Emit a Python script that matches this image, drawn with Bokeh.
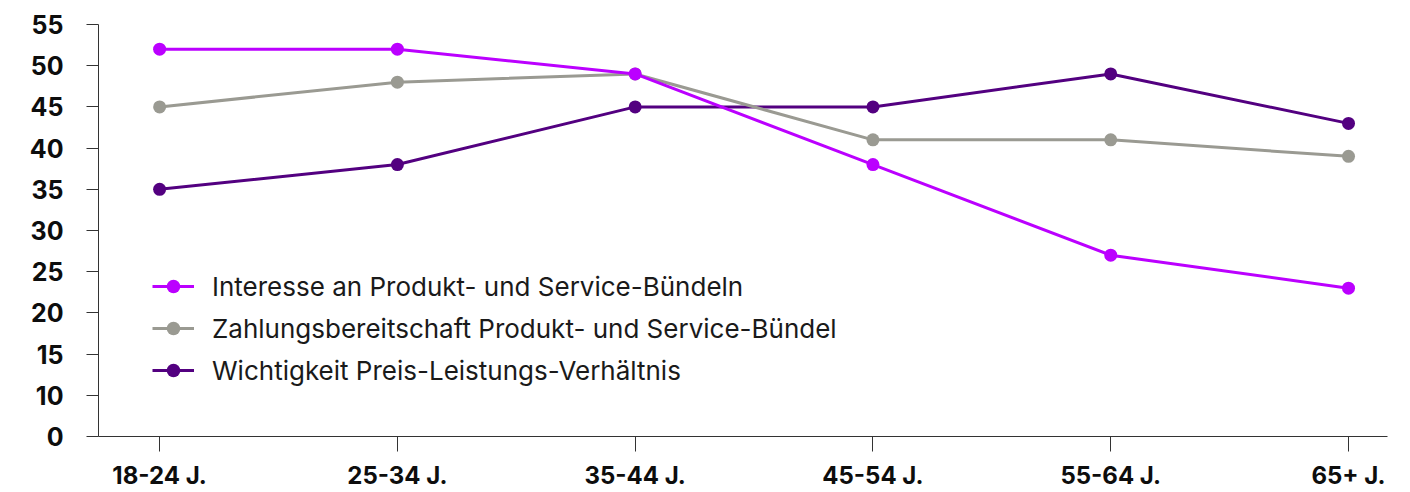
from bokeh.plotting import figure
from bokeh.models import Range1d, FixedTicker, Legend, LegendItem, ColumnDataSource
from bokeh.embed import file_html
from bokeh.resources import INLINE

# Altersgruppen und Umfragewerte (Prozent)
age_groups = ["18-24 J.", "25-34 J.", "35-44 J.", "45-54 J.", "55-64 J.", "65+ J."]
interesse = [52, 52, 49, 38, 27, 23]
zahlungsbereitschaft = [45, 48, 49, 41, 41, 39]
wichtigkeit = [35, 38, 45, 45, 49, 43]

series_names = [
    "Interesse an Produkt- und Service-Bündeln",
    "Zahlungsbereitschaft Produkt- und Service-Bündel",
    "Wichtigkeit Preis-Leistungs-Verhältnis",
]
series_colors = ["#BB00FF", "#9A9A92", "#530080"]

y_ticks = [5, 10, 15, 20, 25, 30, 35, 40, 45, 50, 55]
y_tick_labels = ["0", "10", "15", "20", "25", "30", "35", "40", "45", "50", "55"]

xs = list(range(len(age_groups)))

p = figure(
    width=1410,
    height=492,
    output_backend="svg",
    toolbar_location=None,
    x_range=Range1d(-0.257, 5.164),
    y_range=Range1d(5, 55),
    min_border_left=98,
    min_border_right=23,
    min_border_top=24,
    min_border_bottom=55,
)
p.outline_line_color = None
p.grid.grid_line_color = None
p.background_fill_color = "white"
p.border_fill_color = "white"

# x axis: age groups
p.xaxis.ticker = FixedTicker(ticks=xs)
p.xaxis.major_label_overrides = {i: lab for i, lab in enumerate(age_groups)}
p.xaxis.minor_tick_line_color = None
p.xaxis.major_tick_in = 0
p.xaxis.major_tick_out = 15
p.xaxis.major_label_standoff = 9
p.xaxis.axis_line_color = "#333333"
p.xaxis.major_tick_line_color = "#333333"
p.xaxis.major_label_text_font = "Inter"
p.xaxis.major_label_text_font_style = "bold"
p.xaxis.major_label_text_font_size = "24px"
p.xaxis.major_label_text_color = "#0d0d0d"

# y axis: percent
p.yaxis.ticker = FixedTicker(ticks=y_ticks)
p.yaxis.major_label_overrides = {t: lab for t, lab in zip(y_ticks, y_tick_labels)}
p.yaxis.minor_tick_line_color = None
p.yaxis.major_tick_in = 0
p.yaxis.major_tick_out = 12
p.yaxis.major_label_standoff = 23
p.yaxis.axis_line_color = "#333333"
p.yaxis.major_tick_line_color = "#333333"
p.yaxis.major_label_text_font = "Inter"
p.yaxis.major_label_text_font_style = "bold"
p.yaxis.major_label_text_font_size = "25px"
p.yaxis.major_label_text_color = "#0d0d0d"

values = [interesse, zahlungsbereitschaft, wichtigkeit]
items = {}
for idx in [2, 1, 0]:
    src = ColumnDataSource(dict(x=xs, y=values[idx]))
    ln = p.line("x", "y", source=src, line_color=series_colors[idx], line_width=3)
    sc = p.scatter("x", "y", source=src, size=13, fill_color=series_colors[idx],
                   line_color=series_colors[idx], line_width=0)
    items[idx] = LegendItem(label=series_names[idx], renderers=[ln, sc])

legend = Legend(
    items=[items[0], items[1], items[2]],
    location=(54, 49),
    padding=0,
    margin=0,
    spacing=8,
    glyph_width=42,
    glyph_height=34,
    label_height=34,
    label_standoff=18,
    label_text_font="Inter",
    label_text_font_size="26px",
    label_text_color="#1a1a1a",
    border_line_color=None,
    background_fill_alpha=0,
)
p.add_layout(legend)

open("out.html", "w").write(file_html(p, INLINE))
